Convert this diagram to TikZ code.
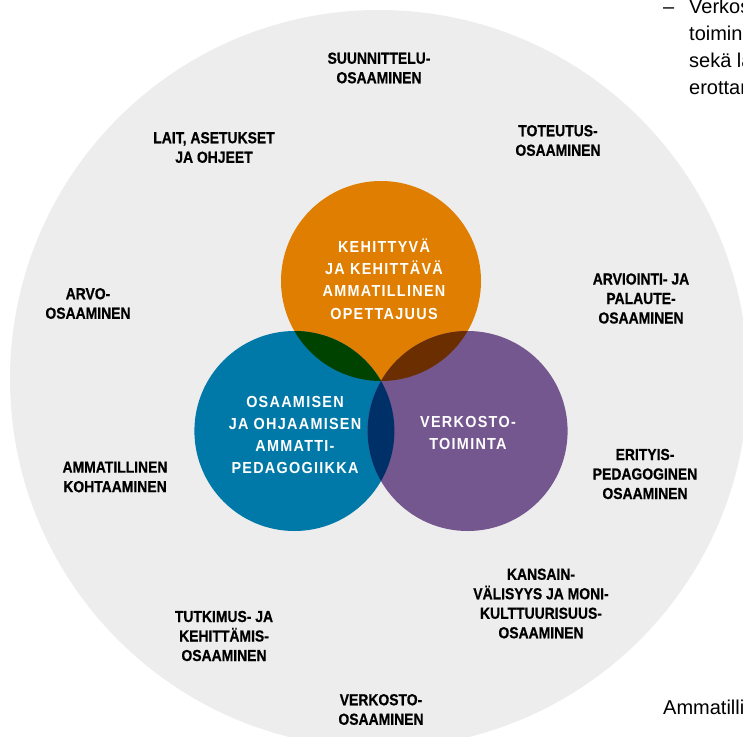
\documentclass[tikz,border=0pt]{standalone}
\usepackage{fontspec}
\setmainfont{Liberation Sans}
\newfontfamily\labelfont{Liberation Sans}[FakeStretch=0.87,FakeBold=0.6]
\newfontfamily\circlefont{Liberation Sans}[FakeStretch=0.9,LetterSpace=8]
\definecolor{bggray}{RGB}{237,237,237}
\definecolor{kehorange}{RGB}{223,126,0}
\definecolor{ohjblue}{RGB}{0,121,168}
\definecolor{verkpurple}{RGB}{117,87,143}
\definecolor{olgreen}{RGB}{0,66,0}
\definecolor{olbrown}{RGB}{107,46,0}
\definecolor{olnavy}{RGB}{0,48,104}

\begin{document}
\begin{tikzpicture}
        [
            x=1pt,y=-1pt,
            venn/.style={circle,minimum size=200pt,inner sep=0pt},
            osaaminen/.style={font=\labelfont\bfseries\fontsize{16}{19.5}\selectfont,align=center},
            ydin/.style={text=white,font=\circlefont\bfseries\fontsize{16}{22.3}\selectfont,align=center},
            sivu/.style={font=\fontsize{20}{27}\selectfont,anchor=base west,inner sep=0pt},
        ]
    \useasboundingbox (0,0) rectangle (743,736);
    \clip (0,0) rectangle (743,736);

    % outer field
    \node[circle,minimum size=738pt,inner sep=0pt,fill=bggray] (kentta) at (379,379) {};

    % three circles
    \node[venn,fill=kehorange] (opettajuus) at (381,281) {};
    \node[venn,fill=ohjblue] (pedagogiikka) at (294.4,431) {};
    \node[venn,fill=verkpurple] (verkosto) at (467.6,431) {};

    % overlaps
    \begin{scope}
        \clip (opettajuus.center) circle (100);
        \fill[olgreen] (pedagogiikka.center) circle (100);
        \fill[olbrown] (verkosto.center) circle (100);
    \end{scope}
    \begin{scope}
        \clip (pedagogiikka.center) circle (100);
        \fill[olnavy] (verkosto.center) circle (100);
    \end{scope}

    \node[ydin] (t-opettajuus) at (384,279) {KEHITTYVÄ\\JA KEHITTÄVÄ\\AMMATILLINEN\\OPETTAJUUS};
    \node[ydin] (t-pedagogiikka) at (295,435) {OSAAMISEN\\JA OHJAAMISEN\\AMMATTI-\\PEDAGOGIIKKA};
    \node[ydin] (t-verkosto) at (468,433) {VERKOSTO-\\TOIMINTA};

    % competence labels
    \node[osaaminen] (suunnittelu) at (379,68) {SUUNNITTELU-\\OSAAMINEN};
    \node[osaaminen] (lait) at (214,147.5) {LAIT, ASETUKSET\\JA OHJEET};
    \node[osaaminen] (toteutus) at (558,140.5) {TOTEUTUS-\\OSAAMINEN};
    \node[osaaminen] (arvo) at (88,303.5) {ARVO-\\OSAAMINEN};
    \node[osaaminen] (arviointi) at (641,298.5) {ARVIOINTI- JA\\PALAUTE-\\OSAAMINEN};
    \node[osaaminen] (kohtaaminen) at (115,477) {AMMATILLINEN\\KOHTAAMINEN};
    \node[osaaminen] (erityis) at (645,474) {ERITYIS-\\PEDAGOGINEN\\OSAAMINEN};
    \node[osaaminen] (kansainvalisyys) at (541,603.5) {KANSAIN-\\VÄLISYYS JA MONI-\\KULTTUURISUUS-\\OSAAMINEN};
    \node[osaaminen] (tutkimus) at (224,636) {TUTKIMUS- JA\\KEHITTÄMIS-\\OSAAMINEN};
    \node[osaaminen] (verkosto-os) at (381,709.5) {VERKOSTO-\\OSAAMINEN};

    % page text around the figure
    \node[sivu] (viiva) at (663,13) {–};
    \node[sivu] (rivi1) at (689,13) {Verkos};
    \node[sivu] (rivi2) at (689,40) {toimin};
    \node[sivu] (rivi3) at (689,67) {sekä la};
    \node[sivu] (rivi4) at (689,94) {erottan};
    \node[sivu] (alaotsikko) at (663,714) {Ammatilli};
\end{tikzpicture}
\end{document}
